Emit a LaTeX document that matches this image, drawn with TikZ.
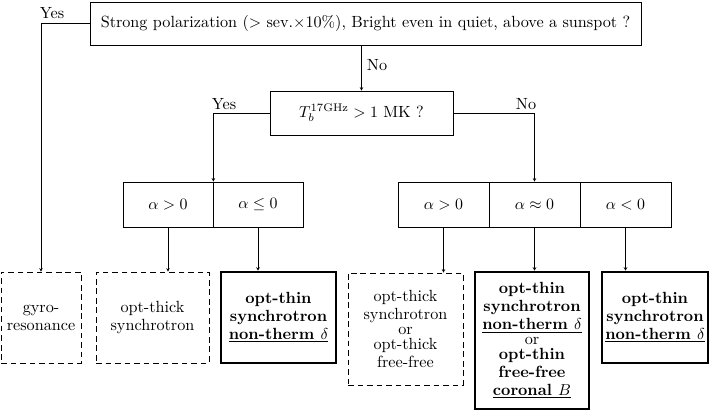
\documentclass[tikz,border=0pt]{standalone}
\usepackage{amsmath}
\usetikzlibrary{arrows.meta}

\newdimen\pxu \pxu=0.63pt

\tikzset{
  qbox/.style={draw=black, line width=0.5pt, align=center, inner sep=0pt,
    font=\fontsize{10.2}{11.3}\selectfont},
  guessbox/.style={draw=black, line width=0.5pt, dash pattern=on 3.6pt off 2.4pt,
    align=center, inner sep=0pt, font=\fontsize{10.2}{11.3}\selectfont},
  resbox/.style={draw=black, line width=1.6pt, align=center, inner sep=0pt,
    font=\fontsize{10.2}{11.3}\selectfont\bfseries},
  lbl/.style={inner sep=1pt, font=\fontsize{10.2}{11.3}\selectfont},
  link/.style={black, line width=0.5pt, -{Stealth[length=2.2pt,width=2.2pt]}}
}

\begin{document}
\begin{tikzpicture}[x=\pxu,y=-\pxu]

\useasboundingbox (0,0) rectangle (717,410);

%% - Draw questions
%% - --------------------------------------

\node[qbox, minimum width=551\pxu, minimum height=43\pxu] (q1) at (365.5,23.5)
  {Strong polarization ($>$ sev.$\times$10\%), Bright even in quiet, above a sunspot ?};
\node[qbox, minimum width=183\pxu, minimum height=44\pxu] (q2) at (361.5,113)
  {$T_b^{\rm 17GHz} > 1$ MK ?};

%% - Draw spectral index boxes
%% - --------------------------------------

\node[qbox, minimum width=90\pxu, minimum height=45\pxu] (a1) at (168,204.5) {$\alpha > 0$};
\node[qbox, minimum width=90\pxu, minimum height=45\pxu] (a2) at (258,204.5) {$\alpha \leq 0$};

\node[qbox, minimum width=91\pxu, minimum height=45\pxu] (b1) at (443.5,204.5) {$\alpha > 0$};
\node[qbox, minimum width=91\pxu, minimum height=45\pxu] (b2) at (534.5,204.5) {$\alpha \approx 0$};
\node[qbox, minimum width=91\pxu, minimum height=45\pxu] (b3) at (625.5,204.5) {$\alpha < 0$};

%% - Draw results
%% - --------------------------------------

\node[guessbox, minimum width=80\pxu, minimum height=91\pxu] (r1) at (41,317.5)
  {gyro-\\resonance};
\node[guessbox, minimum width=113\pxu, minimum height=91\pxu] (r2) at (152.5,317.5)
  {opt-thick\\synchrotron};
\node[resbox, minimum width=115\pxu, minimum height=91\pxu] (r3) at (278.5,317.5)
  {opt-thin\\synchrotron\\\underline{non-therm $\delta$}};
\node[guessbox, minimum width=115\pxu, minimum height=112\pxu] (r4) at (405.5,329)
  {opt-thick\\synchrotron\\[-2pt]{\mdseries or}\\[-2pt]opt-thick\\free-free};
\node[resbox, minimum width=114\pxu, minimum height=137\pxu] (r5) at (532,340.5)
  {opt-thin\\synchrotron\\\underline{non-therm $\delta$}\\[-2pt]{\mdseries or}\\[-2pt]opt-thin\\free-free\\\underline{coronal $B$}};
\node[resbox, minimum width=106\pxu, minimum height=91\pxu] (r6) at (655,317.5)
  {opt-thin\\synchrotron\\\underline{non-therm $\delta$}};

%% - Draw arrows
%% - --------------------------------------

\draw[link] (q1.west) -| (r1.north);
\draw[link] (q1.south -| q2.north) -- (q2.north);
\draw[link] (q2.west) -| (a1.north east);
\draw[link] (q2.east) -| (b2.north);

\draw[link] (a1.south) -- (a1.south |- r2.north);
\draw[link] (a2.south) -- (a2.south |- r3.north);
\draw[link] (b1.south) -- (b1.south |- r4.north);
\draw[link] (b2.south) -- (b2.south |- r5.north);
\draw[link] (b3.south) -- (b3.south |- r6.north);

%% - Draw labels
%% - --------------------------------------

\node[lbl] (yes1) at (52,13) {Yes};
\node[lbl] (no1) at (377,65) {No};
\node[lbl] (yes2) at (224,104) {Yes};
\node[lbl] (no2) at (526,104) {No};

\end{tikzpicture}
\end{document}
